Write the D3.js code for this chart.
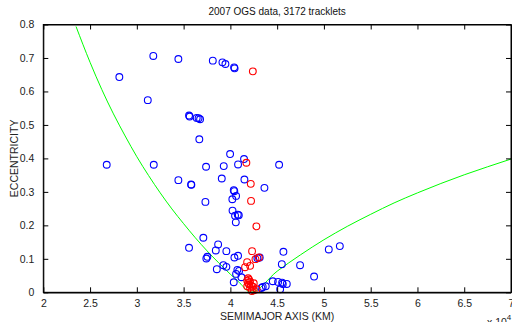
<!DOCTYPE html>
<html><head><meta charset="utf-8">
<script src="https://cdn.jsdelivr.net/npm/d3@7"></script>
<style>
html,body{margin:0;padding:0;background:#fff;}
svg text{font-family:"Liberation Sans",Arial,Helvetica,sans-serif;}
</style></head>
<body><svg id="c" width="512" height="322"></svg>
<script>
const title = "2007 OGS data, 3172 tracklets";
const xLabel = "SEMIMAJOR AXIS (KM)";
const yLabel = "ECCENTRICITY";
const xTicks = [2, 2.5, 3, 3.5, 4, 4.5, 5, 5.5, 6, 6.5, 7];
const yTicks = [0, 0.1, 0.2, 0.3, 0.4, 0.5, 0.6, 0.7, 0.8];
// semimajor axis (x 10^4 km) and eccentricity
const blueA = [3.176,2.813,3.444,3.117,3.812,3.915,3.947,4.040,4.045,3.558,3.565,3.640,3.660,3.676,3.668,3.997,4.146,
  2.678,3.181,3.740,3.929,4.082,4.521,3.444,3.580,3.583,3.908,4.150,4.364,4.036,4.042,4.021,4.061,3.733,4.023,4.050,4.079,4.090,4.058,
  3.711,3.558,3.869,3.844,3.957,3.743,3.754,4.043,4.082,4.567,4.314,4.289,4.550,4.745,5.052,5.170,3.925,3.957,3.855,4.075,4.061,4.093,4.118,4.036,
  4.895,4.453,4.510,4.553,4.560,4.603,4.532,4.346,4.378,4.332];
const blueE = [0.706,0.643,0.697,0.574,0.692,0.687,0.682,0.672,0.669,0.528,0.525,0.521,0.520,0.517,0.457,0.413,0.398,
  0.381,0.381,0.375,0.377,0.382,0.381,0.335,0.322,0.321,0.340,0.337,0.312,0.305,0.302,0.278,0.288,0.270,0.244,0.229,0.232,0.230,0.209,
  0.163,0.133,0.143,0.125,0.123,0.101,0.106,0.104,0.109,0.121,0.104,0.102,0.084,0.081,0.128,0.138,0.081,0.076,0.069,0.067,0.055,0.064,0.045,0.030,
  0.047,0.033,0.031,0.029,0.025,0.025,0.009,0.016,0.018,0.013];
const redA = [4.240,4.171,4.218,4.221,4.278,4.232,4.304,4.268,4.179,4.211,4.157,
  4.190,4.200,4.180,4.210,4.190,4.200,4.220,4.180,4.210,4.240,4.250,4.280,4.250,4.230];
const redE = [0.660,0.387,0.324,0.273,0.197,0.123,0.104,0.099,0.090,0.079,0.075,
  0.042,0.038,0.035,0.032,0.028,0.024,0.020,0.018,0.014,0.017,0.027,0.009,0.006,0.004];
// geosynchronous-crossing boundary curve
const curveA = [2.35,2.5,2.625,2.75,2.875,3.0,3.125,3.25,3.375,3.5,3.625,3.75,3.875,4.0,4.1,4.2164,
  4.5,4.75,5.0,5.25,5.5,5.75,6.0,6.25,6.5,6.75,7.0];
const curveE = [0.794,0.687,0.606,0.533,0.467,0.405,0.349,0.297,0.249,0.205,0.163,0.124,0.088,0.054,0.028,0.0,
  0.063,0.112,0.157,0.197,0.233,0.267,0.297,0.325,0.351,0.375,0.398];

const svg = d3.select("#c");
const L = 43.3, R = 511, T = 24.5, B = 292.3;
const x = d3.scaleLinear().domain([2, 7]).range([L, R]);
const y = d3.scaleLinear().domain([0, 0.8]).range([B, T]);
const tl = 5;
const fs = 10.5;

svg.append("text").attr("x", (L + R) / 2).attr("y", 15).attr("text-anchor", "middle")
  .attr("font-size", 10).attr("fill", "#111").text(title);

const g = svg.append("g");
svg.append("clipPath").attr("id", "clip").append("rect").attr("x", L).attr("y", T).attr("width", R - L).attr("height", B - T);

// curve
const line = d3.line().x((d, i) => x(curveA[i])).y((d, i) => y(curveE[i])).curve(d3.curveMonotoneX);
g.append("path").datum(curveA).attr("d", line).attr("fill", "none").attr("stroke", "#00ff00")
  .attr("stroke-width", 1).attr("clip-path", "url(#clip)");

// points
g.selectAll("circle.b").data(blueA).join("circle").attr("class", "b")
  .attr("cx", d => x(d)).attr("cy", (d, i) => y(blueE[i])).attr("r", 3.4)
  .attr("fill", "none").attr("stroke", "#0000ff").attr("stroke-width", 1.1);
g.selectAll("circle.r").data(redA).join("circle").attr("class", "r")
  .attr("cx", d => x(d)).attr("cy", (d, i) => y(redE[i])).attr("r", 3.4)
  .attr("fill", "none").attr("stroke", "#ff0000").attr("stroke-width", 1.1);

// axes
const fmt = d => String(d);
const ax = svg.append("g");
ax.append("g").attr("transform", `translate(0,${B})`)
  .call(d3.axisBottom(x).tickValues(xTicks).tickFormat(fmt).tickSizeInner(-tl).tickSizeOuter(0).tickPadding(7));
ax.append("g").attr("transform", `translate(0,${T})`)
  .call(d3.axisTop(x).tickValues(xTicks).tickFormat("").tickSizeInner(-tl).tickSizeOuter(0));
ax.append("g").attr("transform", `translate(${L},0)`)
  .call(d3.axisLeft(y).tickValues(yTicks).tickFormat(fmt).tickSizeInner(-tl).tickSizeOuter(0).tickPadding(9));
ax.append("g").attr("transform", `translate(${R},0)`)
  .call(d3.axisRight(y).tickValues(yTicks).tickFormat("").tickSizeInner(-tl).tickSizeOuter(0));
ax.selectAll("text").attr("fill", "#222").attr("font-family", "Liberation Sans, Arial, sans-serif").attr("font-size", fs);
ax.selectAll("path.domain").attr("stroke", "#000");
ax.selectAll(".tick line").attr("stroke", "#000");
svg.append("rect").attr("x", L).attr("y", T).attr("width", R - L).attr("height", B - T)
  .attr("fill", "none").attr("stroke", "#000").attr("stroke-width", 1);
svg.append("line").attr("x1", L).attr("x2", R).attr("y1", B + 0.5).attr("y2", B + 0.5)
  .attr("stroke", "#000").attr("stroke-width", 1);

svg.append("text").attr("x", (L + R) / 2).attr("y", 319.5).attr("text-anchor", "middle")
  .attr("font-size", fs).attr("fill", "#222").text(xLabel);
svg.append("text").attr("transform", `translate(17.5,${(T + B) / 2}) rotate(-90)`).attr("text-anchor", "middle")
  .attr("font-size", fs).attr("fill", "#222").text(yLabel);
const ex = svg.append("text").attr("x", 487).attr("y", 326).attr("font-size", fs).attr("fill", "#222");
ex.append("tspan").text("x 10");
ex.append("tspan").attr("dy", -6).attr("font-size", 8).text("4");
</script></body></html>
